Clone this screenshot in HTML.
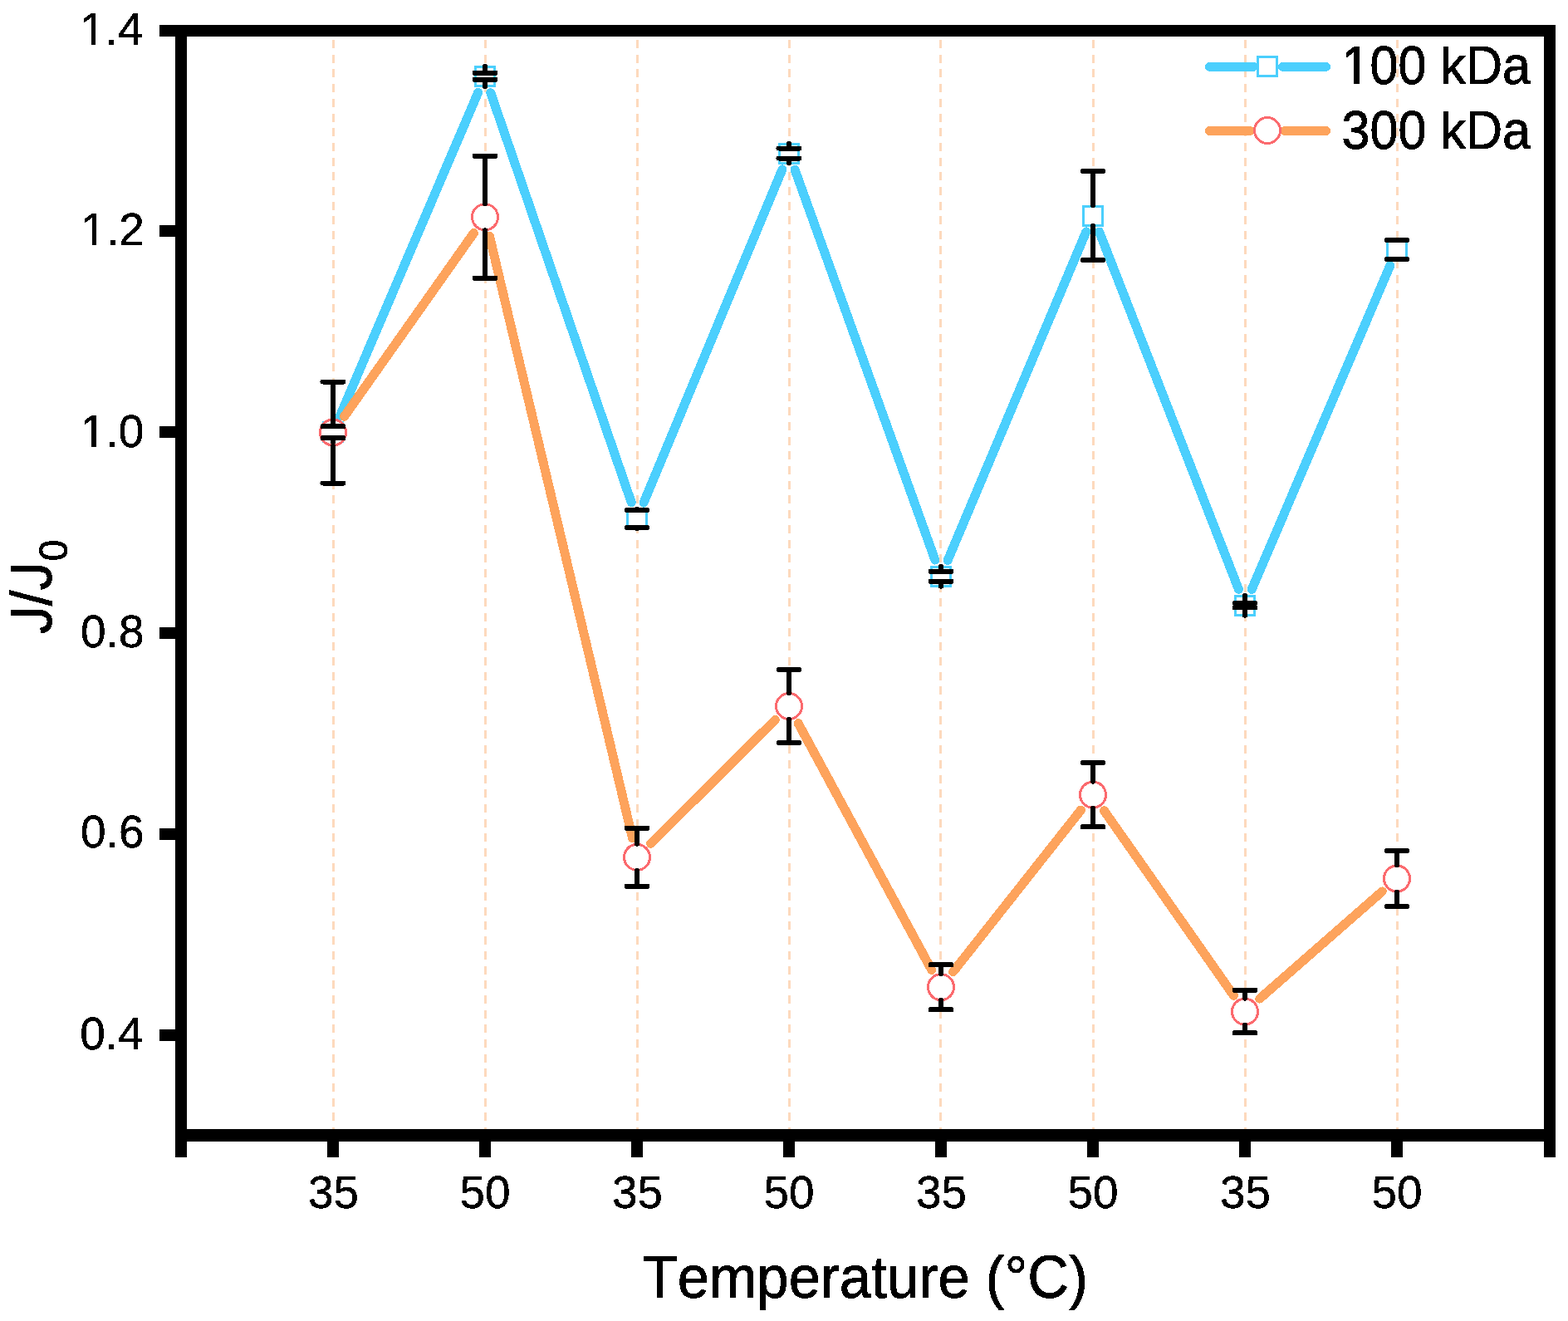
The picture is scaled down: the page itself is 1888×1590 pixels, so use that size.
<!DOCTYPE html>
<html><head><meta charset="utf-8"><title>J/J0 vs Temperature</title>
<style>html,body{margin:0;padding:0;background:#fff;}svg{display:block;}text{font-family:"Liberation Sans",Arial,sans-serif;fill:#000;font-kerning:none;font-feature-settings:"kern" 0,"liga" 0;}</style>
</head><body>
<svg width="1888" height="1590" viewBox="0 0 1888 1590" shape-rendering="crispEdges">
<rect x="0" y="0" width="1888" height="1590" fill="#fff"/>
<defs><filter id="bin" x="0" y="0" width="1888" height="1590" filterUnits="userSpaceOnUse" color-interpolation-filters="sRGB"><feComponentTransfer><feFuncA type="discrete" tableValues="0 1"/></feComponentTransfer></filter></defs>
<g stroke="#fdd9bd" stroke-width="3" stroke-dasharray="10 7.69" fill="none">
<line x1="401.5" y1="48.06" x2="401.5" y2="1359"/>
<line x1="584.5" y1="48.06" x2="584.5" y2="1359"/>
<line x1="767.5" y1="48.06" x2="767.5" y2="1359"/>
<line x1="950.5" y1="48.06" x2="950.5" y2="1359"/>
<line x1="1132.5" y1="48.06" x2="1132.5" y2="1359"/>
<line x1="1316.5" y1="48.06" x2="1316.5" y2="1359"/>
<line x1="1499.5" y1="48.06" x2="1499.5" y2="1359"/>
<line x1="1682.5" y1="48.06" x2="1682.5" y2="1359"/>
</g>
<g stroke="#4bcffd" stroke-width="11" stroke-linecap="round" fill="none">
<line x1="409.25" y1="500.99" x2="575.75" y2="111.21"/>
<line x1="590.82" y1="111.76" x2="760.18" y2="604.59"/>
<line x1="775.07" y1="605.06" x2="941.93" y2="203.89"/>
<line x1="957.10" y1="204.26" x2="1125.90" y2="674.04"/>
<line x1="1141.15" y1="674.45" x2="1307.85" y2="278.85"/>
<line x1="1323.63" y1="279.06" x2="1491.37" y2="709.14"/>
<line x1="1507.25" y1="709.39" x2="1673.75" y2="319.81"/>
</g>
<g stroke="#4bcffd" stroke-width="3" fill="#fff">
<rect x="389.50" y="508.80" width="23" height="23"/>
<rect x="572.50" y="80.40" width="23" height="23"/>
<rect x="755.50" y="612.95" width="23" height="23"/>
<rect x="938.50" y="173.00" width="23" height="23"/>
<rect x="1121.50" y="682.30" width="23" height="23"/>
<rect x="1304.50" y="248.00" width="23" height="23"/>
<rect x="1487.50" y="717.20" width="23" height="23"/>
<rect x="1670.50" y="289.00" width="23" height="23"/>
</g>
<g stroke="#fda35c" stroke-width="11" stroke-linecap="round" fill="none">
<line x1="414.55" y1="501.30" x2="570.45" y2="280.50"/>
<line x1="589.43" y1="284.16" x2="761.57" y2="1008.94"/>
<line x1="783.67" y1="1015.24" x2="933.33" y2="866.56"/>
<line x1="961.18" y1="870.67" x2="1121.82" y2="1167.53"/>
<line x1="1147.57" y1="1169.76" x2="1301.43" y2="975.04"/>
<line x1="1329.49" y1="975.84" x2="1485.51" y2="1198.36"/>
<line x1="1516.69" y1="1202.13" x2="1664.31" y2="1072.97"/>
</g>
<g stroke="#fb6a6e" stroke-width="3" fill="#fff">
<circle cx="401" cy="520.50" r="15.5"/>
<circle cx="584" cy="261.30" r="15.5"/>
<circle cx="767" cy="1031.80" r="15.5"/>
<circle cx="950" cy="850.00" r="15.5"/>
<circle cx="1133" cy="1188.20" r="15.5"/>
<circle cx="1316" cy="956.60" r="15.5"/>
<circle cx="1499" cy="1217.60" r="15.5"/>
<circle cx="1682" cy="1057.50" r="15.5"/>
</g>
<g stroke="#000" stroke-width="6" stroke-linecap="round" fill="none">
<line x1="401" y1="508.30" x2="401" y2="513.30"/>
<line x1="401" y1="532.30" x2="401" y2="527.30"/>
<line x1="388.5" y1="513.30" x2="413.5" y2="513.30"/>
<line x1="388.5" y1="527.30" x2="413.5" y2="527.30"/>
<line x1="584" y1="79.90" x2="584" y2="87.90"/>
<line x1="584" y1="103.90" x2="584" y2="95.90"/>
<line x1="571.5" y1="87.90" x2="596.5" y2="87.90"/>
<line x1="571.5" y1="95.90" x2="596.5" y2="95.90"/>
<line x1="767" y1="612.45" x2="767" y2="613.95"/>
<line x1="767" y1="636.45" x2="767" y2="634.95"/>
<line x1="754.5" y1="613.95" x2="779.5" y2="613.95"/>
<line x1="754.5" y1="634.95" x2="779.5" y2="634.95"/>
<line x1="950" y1="172.50" x2="950" y2="178.50"/>
<line x1="950" y1="196.50" x2="950" y2="190.50"/>
<line x1="937.5" y1="178.50" x2="962.5" y2="178.50"/>
<line x1="937.5" y1="190.50" x2="962.5" y2="190.50"/>
<line x1="1133" y1="681.80" x2="1133" y2="687.80"/>
<line x1="1133" y1="705.80" x2="1133" y2="699.80"/>
<line x1="1120.5" y1="687.80" x2="1145.5" y2="687.80"/>
<line x1="1120.5" y1="699.80" x2="1145.5" y2="699.80"/>
<line x1="1316" y1="247.50" x2="1316" y2="206.00"/>
<line x1="1316" y1="271.50" x2="1316" y2="313.00"/>
<line x1="1303.5" y1="206.00" x2="1328.5" y2="206.00"/>
<line x1="1303.5" y1="313.00" x2="1328.5" y2="313.00"/>
<line x1="1499" y1="716.70" x2="1499" y2="726.10"/>
<line x1="1499" y1="740.70" x2="1499" y2="731.30"/>
<line x1="1486.5" y1="726.10" x2="1511.5" y2="726.10"/>
<line x1="1486.5" y1="731.30" x2="1511.5" y2="731.30"/>
<line x1="1682" y1="288.50" x2="1682" y2="289.00"/>
<line x1="1682" y1="312.50" x2="1682" y2="312.00"/>
<line x1="1669.5" y1="289.00" x2="1694.5" y2="289.00"/>
<line x1="1669.5" y1="312.00" x2="1694.5" y2="312.00"/>
</g>
<g stroke="#000" stroke-width="6" stroke-linecap="round" fill="none">
<line x1="401" y1="504.50" x2="401" y2="459.50"/>
<line x1="401" y1="536.50" x2="401" y2="581.50"/>
<line x1="388.5" y1="459.50" x2="413.5" y2="459.50"/>
<line x1="388.5" y1="581.50" x2="413.5" y2="581.50"/>
<line x1="584" y1="245.30" x2="584" y2="187.70"/>
<line x1="584" y1="277.30" x2="584" y2="334.90"/>
<line x1="571.5" y1="187.70" x2="596.5" y2="187.70"/>
<line x1="571.5" y1="334.90" x2="596.5" y2="334.90"/>
<line x1="767" y1="1015.80" x2="767" y2="996.80"/>
<line x1="767" y1="1047.80" x2="767" y2="1066.80"/>
<line x1="754.5" y1="996.80" x2="779.5" y2="996.80"/>
<line x1="754.5" y1="1066.80" x2="779.5" y2="1066.80"/>
<line x1="950" y1="834.00" x2="950" y2="806.00"/>
<line x1="950" y1="866.00" x2="950" y2="894.00"/>
<line x1="937.5" y1="806.00" x2="962.5" y2="806.00"/>
<line x1="937.5" y1="894.00" x2="962.5" y2="894.00"/>
<line x1="1133" y1="1172.20" x2="1133" y2="1161.20"/>
<line x1="1133" y1="1204.20" x2="1133" y2="1215.20"/>
<line x1="1120.5" y1="1161.20" x2="1145.5" y2="1161.20"/>
<line x1="1120.5" y1="1215.20" x2="1145.5" y2="1215.20"/>
<line x1="1316" y1="940.60" x2="1316" y2="918.00"/>
<line x1="1316" y1="972.60" x2="1316" y2="995.20"/>
<line x1="1303.5" y1="918.00" x2="1328.5" y2="918.00"/>
<line x1="1303.5" y1="995.20" x2="1328.5" y2="995.20"/>
<line x1="1499" y1="1201.60" x2="1499" y2="1191.90"/>
<line x1="1499" y1="1233.60" x2="1499" y2="1243.30"/>
<line x1="1486.5" y1="1191.90" x2="1511.5" y2="1191.90"/>
<line x1="1486.5" y1="1243.30" x2="1511.5" y2="1243.30"/>
<line x1="1682" y1="1041.50" x2="1682" y2="1024.00"/>
<line x1="1682" y1="1073.50" x2="1682" y2="1091.00"/>
<line x1="1669.5" y1="1024.00" x2="1694.5" y2="1024.00"/>
<line x1="1669.5" y1="1091.00" x2="1694.5" y2="1091.00"/>
</g>
<g fill="#000">
<rect x="211" y="30" width="1662" height="14"/>
<rect x="211" y="1359.4" width="1662" height="14.4"/>
<rect x="211" y="30" width="14" height="1363"/>
<rect x="1859" y="30" width="14" height="1363"/>
<rect x="192" y="30" width="19" height="14"/>
<rect x="192" y="271.02" width="19" height="14"/>
<rect x="192" y="513.00" width="19" height="14"/>
<rect x="192" y="754.98" width="19" height="14"/>
<rect x="192" y="996.96" width="19" height="14"/>
<rect x="192" y="1238.94" width="19" height="14"/>
<rect x="394" y="1373" width="14" height="20"/>
<rect x="577" y="1373" width="14" height="20"/>
<rect x="760" y="1373" width="14" height="20"/>
<rect x="943" y="1373" width="14" height="20"/>
<rect x="1126" y="1373" width="14" height="20"/>
<rect x="1309" y="1373" width="14" height="20"/>
<rect x="1492" y="1373" width="14" height="20"/>
<rect x="1675" y="1373" width="14" height="20"/>
</g>
<g filter="url(#bin)">
<text transform="matrix(1.0000 0 0 1.0050 96.25 53.70)" x="0" y="0" font-size="55" stroke="#000" stroke-width="0.4" stroke-linejoin="round" clip-path="url(#c14)">1.4</text>
<text transform="matrix(1.0000 0 0 1.0050 97.35 294.70)" x="0" y="0" font-size="55" stroke="#000" stroke-width="0.4" stroke-linejoin="round" clip-path="url(#c12)">1.2</text>
<text transform="matrix(1.0000 0 0 1.0050 96.80 537.70)" x="0" y="0" font-size="55" stroke="#000" stroke-width="0.4" stroke-linejoin="round" clip-path="url(#c10)">1.0</text>
<text transform="matrix(1.0000 0 0 1.0050 97.08 778.50)" x="0" y="0" font-size="55" stroke="#000" stroke-width="0.4" stroke-linejoin="round">0.8</text>
<text transform="matrix(1.0000 0 0 1.0050 97.08 1020.40)" x="0" y="0" font-size="55" stroke="#000" stroke-width="0.4" stroke-linejoin="round">0.6</text>
<text transform="matrix(1.0000 0 0 1.0050 96.25 1262.70)" x="0" y="0" font-size="55" stroke="#000" stroke-width="0.4" stroke-linejoin="round">0.4</text>
<text transform="matrix(1.0000 0 0 1.0050 370.88 1454.40)" x="0" y="0" font-size="55" stroke="#000" stroke-width="0.4" stroke-linejoin="round">35</text>
<text transform="matrix(1.0000 0 0 1.0050 553.39 1454.40)" x="0" y="0" font-size="55" stroke="#000" stroke-width="0.4" stroke-linejoin="round">50</text>
<text transform="matrix(1.0000 0 0 1.0050 736.88 1454.40)" x="0" y="0" font-size="55" stroke="#000" stroke-width="0.4" stroke-linejoin="round">35</text>
<text transform="matrix(1.0000 0 0 1.0050 919.39 1454.40)" x="0" y="0" font-size="55" stroke="#000" stroke-width="0.4" stroke-linejoin="round">50</text>
<text transform="matrix(1.0000 0 0 1.0050 1102.88 1454.40)" x="0" y="0" font-size="55" stroke="#000" stroke-width="0.4" stroke-linejoin="round">35</text>
<text transform="matrix(1.0000 0 0 1.0050 1285.39 1454.40)" x="0" y="0" font-size="55" stroke="#000" stroke-width="0.4" stroke-linejoin="round">50</text>
<text transform="matrix(1.0000 0 0 1.0050 1468.88 1454.40)" x="0" y="0" font-size="55" stroke="#000" stroke-width="0.4" stroke-linejoin="round">35</text>
<text transform="matrix(1.0000 0 0 1.0050 1651.39 1454.40)" x="0" y="0" font-size="55" stroke="#000" stroke-width="0.4" stroke-linejoin="round">50</text>
<text transform="matrix(0.9975 0 0 1.0360 773.73 1561.55)" x="0" y="0" font-size="69" stroke="#000" stroke-width="0.9" stroke-linejoin="round">Temperature (°C)</text>
<text transform="translate(62.45,763.25) rotate(-90) scale(0.97,1.016)" x="0" y="0" font-size="70" stroke="#000" stroke-width="0.9" stroke-linejoin="round" clip-path="url(#cJ)">J/J<tspan x="90.78" y="18.3" font-size="47.5">0</tspan></text>
<g stroke-linecap="round" fill="none">
<line x1="1456.5" y1="80.3" x2="1509" y2="80.3" stroke="#4bcffd" stroke-width="11"/>
<line x1="1544.5" y1="80.3" x2="1596.5" y2="80.3" stroke="#4bcffd" stroke-width="11"/>
<rect x="1514.5" y="68.5" width="23" height="23" stroke="#4bcffd" stroke-width="3" fill="#fff"/>
<line x1="1456.5" y1="157.4" x2="1505" y2="157.4" stroke="#fda35c" stroke-width="11"/>
<line x1="1547" y1="157.4" x2="1596.5" y2="157.4" stroke="#fda35c" stroke-width="11"/>
<circle cx="1526" cy="157" r="15.5" stroke="#fb6a6e" stroke-width="3" fill="#fff"/>
</g>
<text transform="matrix(0.9930 0 0 1.0400 1615.60 100.50)" x="0" y="0" font-size="61.5" stroke="#000" stroke-width="0.9" stroke-linejoin="round" clip-path="url(#c100)">100 kDa</text>
<text transform="matrix(0.9930 0 0 1.0400 1615.60 178.70)" x="0" y="0" font-size="61.5" stroke="#000" stroke-width="0.9" stroke-linejoin="round" clip-path="url(#c300)">300 kDa</text>
</g>
<defs><clipPath id="c14"><path clip-rule="evenodd" d="M-2000,-2000H4000V2000H-2000ZM3.76,-4.91H13.48V4.00H3.76ZM19.04,-4.91H28.47V4.00H19.04Z"/></clipPath><clipPath id="c12"><path clip-rule="evenodd" d="M-2000,-2000H4000V2000H-2000ZM3.76,-4.91H13.48V4.00H3.76ZM19.04,-4.91H28.47V4.00H19.04Z"/></clipPath><clipPath id="c10"><path clip-rule="evenodd" d="M-2000,-2000H4000V2000H-2000ZM3.76,-4.91H13.48V4.00H3.76ZM19.04,-4.91H28.47V4.00H19.04Z"/></clipPath><clipPath id="cJ"><path clip-rule="evenodd" d="M-2000,-2000H4000V2000H-2000ZM13.50,-52.16H23.31V-42.03H13.50ZM67.95,-52.16H77.76V-42.03H67.95Z"/></clipPath><clipPath id="c100"><path clip-rule="evenodd" d="M-2000,-2000H4000V2000H-2000ZM4.20,-5.39H14.82V4.00H4.20ZM21.55,-5.39H31.83V4.00H21.55ZM122.70,-51.05H130.51V-42.76H122.70Z"/></clipPath><clipPath id="c300"><path clip-rule="evenodd" d="M-2000,-2000H4000V2000H-2000ZM122.70,-51.05H130.51V-42.76H122.70Z"/></clipPath></defs>
</svg>
</body></html>
